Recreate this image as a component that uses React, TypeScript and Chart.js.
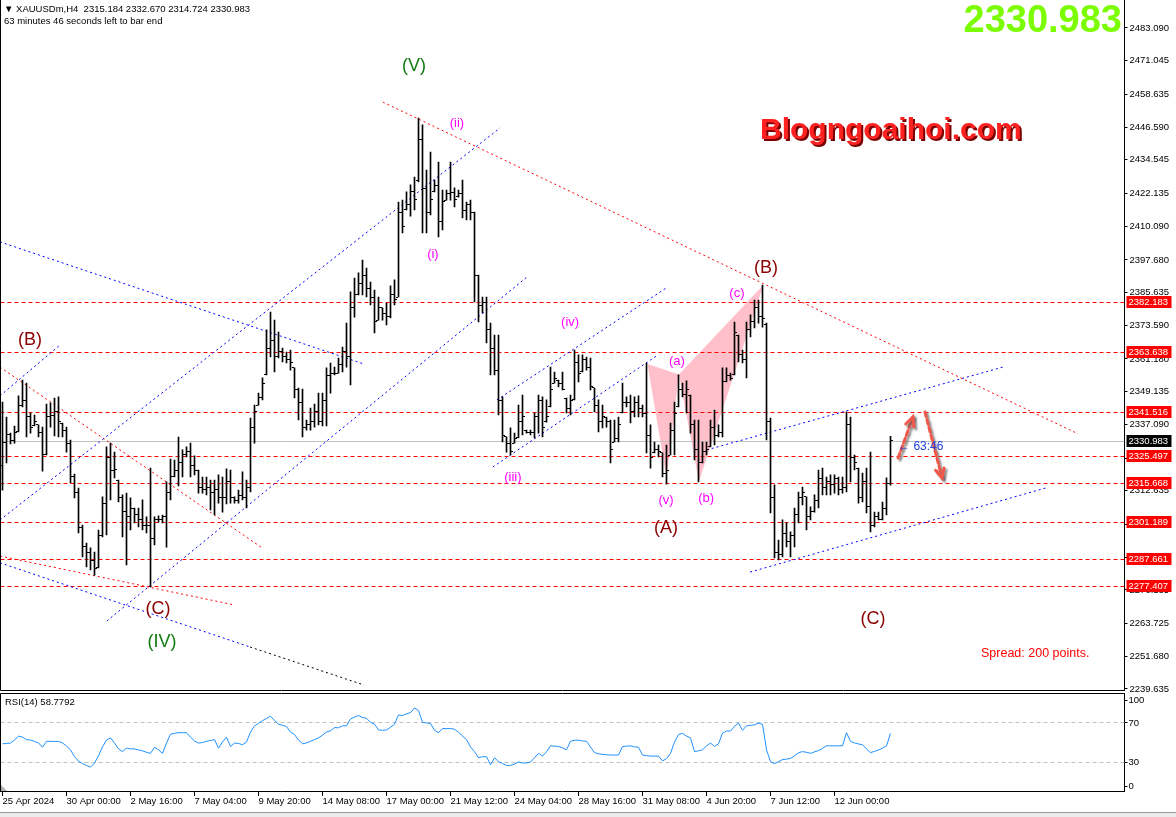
import { useEffect, useRef } from 'react';
import { Chart, registerables } from 'chart.js';

Chart.register(...registerables);

const FONT = "'Liberation Sans', 'DejaVu Sans', Arial, sans-serif";

const symbolName = 'XAUUSDm,H4';
const countdownText = '63 minutes 46 seconds left to bar end';
const barTimer = '\u2190 63:46';
const spreadText = 'Spread: 200 points.';
const siteName = 'Blogngoaihoi.com';

const opens = [
  2322.0,2330.5,2333.2,2331.0,2334.3,2344.0,2346.0,2340.0,2336.5,2336.9,
  2334.0,2326.0,2340.0,2340.5,2342.0,2337.6,2335.0,2330.0,2318.0,2312.0,
  2299.0,2292.0,2290.0,2287.0,2284.2,2296.0,2308.0,2325.0,2320.0,2316.6,
  2310.0,2305.0,2303.0,2306.0,2304.0,2302.0,2300.0,2300.0,2295.0,2302.0,
  2302.0,2303.0,2312.0,2318.0,2320.0,2323.0,2326.0,2327.0,2322.0,2320.0,
  2314.0,2313.0,2314.0,2312.0,2313.0,2310.0,2310.0,2316.0,2310.0,2309.0,
  2311.0,2310.0,2314.0,2336.0,2344.2,2347.0,2355.3,2365.0,2368.0,2362.0,
  2364.0,2362.0,2361.0,2357.9,2350.0,2345.0,2336.0,2337.0,2338.0,2342.0,
  2338.0,2346.0,2355.0,2356.0,2356.0,2359.0,2364.0,2362.0,2380.0,2385.0,
  2389.0,2392.0,2387.0,2384.0,2375.5,2380.0,2378.0,2377.0,2385.0,2384.0,
  2415.0,2416.1,2418.0,2423.0,2427.0,2442.0,2424.0,2415.0,2422.7,2425.0,
  2412.0,2419.7,2422.0,2422.5,2421.0,2422.0,2416.0,2418.0,2415.0,2392.0,
  2381.0,2382.0,2372.0,2365.0,2357.0,2346.0,2332.5,2330.0,2330.2,2332.1,
  2338.0,2335.0,2334.0,2334.0,2340.0,2346.0,2338.0,2343.5,2352.3,2353.4,
  2352.0,2346.8,2343.0,2346.1,2360.0,2356.4,2361.0,2358.0,2350.5,2344.0,
  2338.0,2339.8,2338.0,2330.6,2332.0,2341.3,2345.0,2345.0,2342.0,2345.0,
  2343.0,2341.0,2333.0,2326.6,2328.0,2326.6,2319.0,2325.8,2335.0,2343.5,
  2350.0,2348.0,2347.9,2337.0,2328.0,2323.0,2327.0,2328.8,2336.0,2333.0,
  2334.0,2353.0,2355.0,2355.3,2370.0,2363.0,2361.0,2372.0,2375.0,2380.0,
  2377.0,2374.0,2338.0,2310.0,2290.0,2289.0,2297.0,2294.0,2296.0,2304.0,
  2310.0,2310.4,2303.0,2305.0,2309.0,2317.0,2314.0,2316.0,2315.0,2317.0,
  2313.0,2314.0,2337.0,2325.0,2321.0,2310.0,2316.0,2307.0,2300.0,2303.0,
  2302.0,2306.0,2315.184,
];

const highs = [
  2345.3,2339.8,2333.9,2336.5,2347.6,2353.4,2352.3,2341.3,2340.5,2336.9,
  2336.1,2344.6,2345.0,2346.8,2347.2,2337.6,2336.1,2331.3,2318.8,2313.6,
  2300.0,2293.4,2291.6,2290.1,2298.2,2310.4,2328.8,2330.2,2326.9,2316.6,
  2311.1,2311.8,2310.0,2306.3,2306.3,2309.3,2303.0,2321.0,2303.0,2303.4,
  2303.7,2315.9,2324.3,2323.9,2332.4,2327.7,2328.8,2330.2,2325.5,2320.3,
  2317.7,2317.7,2316.6,2316.6,2318.5,2317.7,2320.7,2320.3,2310.4,2312.9,
  2319.6,2316.6,2339.4,2344.2,2348.6,2354.2,2371.9,2378.5,2375.5,2371.1,
  2365.2,2363.7,2364.5,2357.9,2350.5,2350.1,2338.7,2343.1,2344.6,2348.6,
  2348.6,2357.9,2359.7,2358.2,2361.5,2365.6,2374.4,2385.9,2391.0,2392.9,
  2397.6,2394.7,2389.5,2386.6,2384.0,2380.0,2381.8,2388.1,2390.3,2419.0,
  2419.7,2422.7,2425.3,2428.2,2449.9,2447.4,2430.8,2437.4,2427.1,2433.7,
  2423.4,2423.4,2433.7,2424.2,2423.4,2427.1,2419.0,2419.7,2415.3,2392.1,
  2384.0,2384.0,2374.4,2370.0,2370.0,2347.2,2332.5,2335.8,2333.9,2344.2,
  2347.9,2335.0,2335.0,2341.3,2347.9,2347.2,2346.1,2358.2,2356.4,2353.4,
  2356.4,2346.8,2347.9,2364.5,2362.7,2362.7,2361.9,2361.5,2350.5,2346.1,
  2344.2,2339.8,2338.7,2338.7,2339.8,2352.3,2347.2,2347.9,2347.2,2347.6,
  2344.2,2359.7,2336.9,2330.6,2329.5,2326.6,2329.5,2337.6,2345.3,2355.3,
  2352.3,2353.1,2347.9,2338.7,2338.7,2330.6,2330.6,2338.7,2342.4,2336.9,
  2357.9,2357.9,2356.0,2374.8,2370.0,2364.5,2374.8,2377.4,2382.9,2382.9,
  2388.4,2374.4,2339.4,2314.8,2294.5,2301.9,2300.8,2297.5,2306.3,2312.2,
  2314.0,2310.4,2306.7,2311.1,2320.3,2321.0,2317.7,2318.5,2318.5,2317.7,
  2317.7,2341.7,2339.8,2325.8,2321.0,2319.2,2321.0,2326.9,2304.8,2304.8,
  2308.5,2317.4,2332.67,
];

const lows = [
  2312.9,2322.9,2329.9,2330.2,2334.3,2343.5,2332.5,2333.9,2336.5,2332.5,
  2319.9,2325.8,2336.1,2332.8,2332.5,2332.5,2326.9,2315.5,2310.0,2297.1,
  2288.3,2284.6,2283.5,2281.6,2284.2,2295.6,2296.4,2309.3,2317.4,2308.5,
  2295.6,2285.3,2298.2,2300.8,2299.3,2298.2,2297.1,2277.2,2292.7,2301.1,
  2300.8,2291.9,2309.3,2317.7,2314.4,2317.7,2325.1,2317.7,2318.5,2311.8,
  2311.8,2311.1,2305.6,2303.7,2308.1,2304.8,2307.8,2308.1,2308.1,2308.1,
  2309.3,2306.3,2312.2,2330.2,2344.2,2346.1,2355.3,2361.9,2356.4,2361.6,
  2360.1,2359.7,2357.1,2346.8,2338.7,2332.5,2335.0,2335.0,2336.1,2336.9,
  2336.5,2336.5,2348.6,2355.3,2356.0,2356.4,2358.2,2351.6,2376.6,2384.8,
  2384.8,2384.0,2381.1,2370.8,2375.5,2375.5,2373.7,2376.3,2381.1,2384.0,
  2407.6,2416.1,2413.8,2416.1,2426.4,2407.6,2407.6,2414.2,2422.7,2406.1,
  2408.7,2419.7,2419.7,2417.2,2420.8,2413.1,2412.4,2412.4,2382.2,2374.8,
  2378.1,2367.1,2355.3,2355.3,2340.6,2330.6,2326.9,2325.8,2330.2,2332.1,
  2333.2,2333.9,2333.2,2332.1,2333.9,2332.5,2337.9,2343.5,2352.3,2350.9,
  2349.8,2341.3,2340.6,2346.1,2352.7,2356.4,2357.1,2349.8,2341.7,2334.3,
  2335.8,2336.1,2322.9,2330.6,2330.6,2341.3,2343.5,2337.6,2339.8,2339.8,
  2339.8,2326.6,2321.0,2326.6,2325.1,2317.7,2315.1,2325.8,2325.8,2343.5,
  2347.2,2341.3,2333.9,2324.0,2315.9,2322.9,2325.8,2328.8,2329.5,2332.5,
  2332.5,2352.7,2353.4,2355.3,2360.1,2359.7,2354.2,2369.3,2372.6,2374.4,
  2372.9,2331.4,2304.5,2287.9,2287.2,2288.3,2292.0,2288.3,2292.0,2300.8,
  2307.4,2298.2,2301.9,2304.8,2306.3,2311.1,2311.1,2311.1,2311.8,2311.1,
  2311.8,2312.2,2315.9,2320.3,2308.1,2308.5,2304.5,2297.5,2299.3,2301.9,
  2301.9,2303.7,2314.724,
];

const closes = [
  2330.5,2333.2,2331.0,2334.0,2344.0,2346.0,2340.0,2336.0,2338.0,2334.0,
  2326.0,2340.0,2340.5,2342.0,2338.0,2335.0,2330.0,2318.0,2312.0,2299.0,
  2292.0,2290.0,2287.0,2284.0,2296.0,2308.0,2325.0,2320.0,2320.5,2310.0,
  2305.0,2303.0,2306.0,2304.0,2302.0,2300.0,2300.0,2295.0,2302.0,2302.0,
  2303.0,2312.0,2318.0,2320.0,2323.0,2326.0,2327.0,2322.0,2320.0,2314.0,
  2313.0,2314.0,2312.0,2313.0,2310.0,2310.0,2316.0,2310.0,2309.0,2311.0,
  2310.0,2314.0,2336.0,2342.0,2347.0,2352.0,2365.0,2368.0,2362.0,2364.0,
  2362.0,2361.0,2360.0,2350.0,2345.0,2336.0,2337.0,2338.0,2342.0,2338.0,
  2346.0,2355.0,2356.0,2356.0,2359.0,2364.0,2362.0,2380.0,2385.0,2389.0,
  2392.0,2387.0,2384.0,2375.0,2380.0,2378.0,2377.0,2385.0,2383.0,2415.0,
  2410.0,2418.0,2423.0,2420.0,2442.0,2424.0,2415.0,2420.0,2425.0,2412.0,
  2419.0,2422.0,2422.5,2420.0,2422.0,2416.0,2418.0,2415.0,2392.0,2381.0,
  2382.0,2372.0,2365.0,2357.0,2346.0,2333.0,2330.0,2327.0,2332.0,2338.0,
  2340.0,2334.0,2334.0,2340.0,2346.0,2336.0,2340.0,2350.0,2354.0,2352.0,
  2350.0,2343.0,2346.0,2360.0,2356.0,2361.0,2358.0,2351.0,2344.0,2338.0,
  2340.0,2338.0,2328.0,2332.0,2337.0,2345.0,2345.0,2342.0,2345.0,2343.0,
  2341.0,2333.0,2325.0,2328.0,2327.0,2319.0,2320.0,2335.0,2341.0,2350.0,
  2348.0,2350.0,2337.0,2328.0,2323.0,2327.0,2328.0,2336.0,2333.0,2334.0,
  2353.0,2355.0,2354.0,2371.0,2363.0,2361.0,2372.0,2375.0,2380.0,2377.0,
  2376.0,2338.0,2310.0,2290.0,2289.0,2297.0,2294.0,2296.0,2304.0,2310.0,
  2312.0,2303.0,2305.0,2309.0,2317.0,2314.0,2316.0,2315.0,2317.0,2313.0,
  2314.0,2337.0,2325.0,2323.0,2310.0,2316.0,2307.0,2300.0,2303.0,2302.0,
  2306.0,2315.184,2330.983,
];

const rsiValues = [
  48.2,48.5,48.9,52.0,55.9,55.0,52.5,52.0,50.7,49.0,
  44.7,50.7,50.7,50.5,50.7,49.0,46.0,42.0,35.0,30.5,
  28.0,26.1,24.4,28.5,36.0,45.0,52.0,54.2,48.9,43.0,
  40.2,43.7,43.0,43.0,41.9,41.0,39.5,38.4,44.7,42.0,
  38.4,48.9,58.0,58.8,59.5,59.5,59.5,55.0,51.0,48.9,
  49.5,50.7,51.5,52.5,43.7,50.0,54.9,45.4,48.9,48.5,
  47.2,50.0,60.0,66.5,69.0,71.8,74.0,76.3,72.0,68.2,
  67.0,65.8,60.0,57.7,52.0,48.2,49.0,50.7,52.5,54.2,
  57.0,60.2,61.5,64.7,64.5,66.5,66.5,73.5,75.5,77.0,
  75.0,74.2,70.0,68.2,62.3,62.0,62.3,65.0,68.2,77.7,
  77.0,78.8,80.0,84.7,82.3,70.0,69.5,68.9,62.0,59.5,
  63.7,63.7,63.7,63.0,60.0,56.0,52.5,45.0,40.2,33.9,
  35.0,35.0,26.8,33.9,30.0,28.0,26.1,26.1,27.5,29.6,
  28.6,28.6,29.6,34.0,38.4,35.6,40.0,46.1,45.8,45.4,
  44.0,42.0,50.7,51.8,51.8,51.0,50.7,45.0,39.1,38.0,
  37.4,37.0,36.7,36.7,36.7,45.4,45.8,46.1,45.0,44.7,
  36.7,36.0,35.6,35.6,35.6,30.7,33.0,38.4,50.0,57.7,
  58.8,56.0,54.2,40.2,41.0,42.0,46.0,49.0,45.4,48.2,
  59.0,61.2,61.2,66.0,69.3,62.0,66.5,67.0,67.5,69.3,
  68.0,42.0,30.0,27.9,30.0,32.1,32.5,33.2,36.0,39.1,
  40.2,39.5,38.4,40.0,41.2,43.5,46.1,46.1,46.1,46.1,
  46.1,59.5,50.7,49.0,48.0,47.2,43.0,39.1,40.5,41.9,
  43.7,46.1,58.7792,
];

const timeTickBars = [0, 16, 32, 48, 64, 80, 96, 112, 128, 144, 160, 176, 192, 208];
const timeTickLabels = [
  '25 Apr 2024', '30 Apr 00:00', '2 May 16:00', '7 May 04:00', '9 May 20:00',
  '14 May 08:00', '17 May 00:00', '21 May 12:00', '24 May 04:00', '28 May 16:00',
  '31 May 08:00', '4 Jun 20:00', '7 Jun 12:00', '12 Jun 00:00',
];

const priceTicks = [
  2483.090, 2471.045, 2458.635, 2446.590, 2434.545, 2422.135, 2410.090, 2397.680,
  2385.635, 2373.590, 2361.180, 2349.135, 2337.090, 2324.680, 2312.635, 2300.225,
  2288.180, 2276.135, 2263.725, 2251.680, 2239.635,
];
const priceMin = 2239.26;
const priceMax = 2493.4;

const levelPrices = [2382.183, 2363.638, 2341.516, 2325.497, 2315.668, 2301.189, 2287.661, 2277.407];

const rsiLevels = [70, 30];
const rsiAxisLabels = [100, 70, 30, 0];

const SLOT_COUNT = 281;
const slotLabels = Array.from({ length: SLOT_COUNT }, (_, i) => String(i));

// trend lines: [barIndex1, price1, barIndex2, price2]
const redTrendLines = [
  [95.1, 2455.8, 268.9, 2333.6],
  [-0.625, 2358.2, 64.9, 2291.6],
  [-0.625, 2288.6, 57.9, 2270.6],
];
const blueTrendLines = [
  [-0.625, 2404.3, 90.4, 2359.3],
  [-0.625, 2347.6, 14.1, 2366.0],
  [-0.625, 2301.9, 124.4, 2446.3],
  [26.1, 2264.7, 131.4, 2391.7],
  [-0.625, 2286.1, 61.9, 2255.1],
  [123.6, 2346.1, 165.9, 2387.3],
  [122.6, 2321.4, 163.9, 2362.7],
  [176.1, 2327.7, 250.1, 2358.2],
  [186.9, 2282.7, 260.9, 2313.7],
];
const blackTrendLines = [[61.9, 2255.1, 90.4, 2241.1]];

const harmonicPoints = [
  [161.25, 2359.3],
  [166.0, 2317.4],
  [169.1, 2355.5],
  [174.1, 2316.0],
  [190.2, 2388.4],
];
const harmonicTriangles = [[0, 1, 2], [2, 3, 4]];

const majorWaveLabels = [
  ['(B)', 6.9, 2368.2],
  ['(B)', 190.9, 2394.7],
  ['(C)', 38.9, 2269.1],
  ['(C)', 217.6, 2265.4],
  ['(A)', 165.9, 2298.9],
];
const primaryWaveLabels = [
  ['(V)', 102.9, 2469.1],
  ['(IV)', 39.9, 2257.0],
];
const minorWaveLabels = [
  ['(ii)', 113.6, 2448.1],
  ['(i)', 107.6, 2399.8],
  ['(iv)', 141.9, 2374.8],
  ['(iii)', 127.6, 2317.4],
  ['(v)', 165.9, 2309.2],
  ['(a)', 168.6, 2360.1],
  ['(b)', 175.9, 2310.0],
  ['(c)', 183.6, 2385.5],
];

const forecastArrows = [
  [223.9, 2324.7, 227.6, 2339.8],
  [230.6, 2341.7, 234.9, 2317.4],
];
const timerAnchor = [223.9, 2328.8];

function drawSegments(ctx: CanvasRenderingContext2D, xs: any, ys: any, lines: number[][], color: string, dash: number[]) {
  ctx.save();
  ctx.strokeStyle = color;
  ctx.lineWidth = 1;
  ctx.setLineDash(dash);
  lines.forEach(([i1, p1, i2, p2]) => {
    ctx.beginPath();
    ctx.moveTo(xs.getPixelForValue(i1), ys.getPixelForValue(p1));
    ctx.lineTo(xs.getPixelForValue(i2), ys.getPixelForValue(p2));
    ctx.stroke();
  });
  ctx.restore();
}

function drawArrow(ctx: CanvasRenderingContext2D, x1: number, y1: number, x2: number, y2: number) {
  const ang = Math.atan2(y2 - y1, x2 - x1);
  const head = 10;
  ctx.beginPath();
  ctx.moveTo(x1, y1);
  ctx.lineTo(x2, y2);
  ctx.stroke();
  ctx.setLineDash([]);
  ctx.beginPath();
  ctx.moveTo(x2 - head * Math.cos(ang - 0.45), y2 - head * Math.sin(ang - 0.45));
  ctx.lineTo(x2, y2);
  ctx.lineTo(x2 - head * Math.cos(ang + 0.45), y2 - head * Math.sin(ang + 0.45));
  ctx.stroke();
}

const mainPlugin = {
  id: 'mt4Main',
  beforeDatasetsDraw(chart: any) {
    const { ctx, chartArea: a, scales } = chart;
    const xs = scales.x;
    const ys = scales.y;
    ctx.save();
    ctx.beginPath();
    ctx.rect(a.left, a.top, a.right - a.left, a.bottom - a.top);
    ctx.clip();
    ctx.fillStyle = '#FFC0CB';
    harmonicTriangles.forEach((tri) => {
      ctx.beginPath();
      tri.forEach((k, n) => {
        const [bi, p] = harmonicPoints[k];
        const X = xs.getPixelForValue(bi);
        const Y = ys.getPixelForValue(p);
        if (n === 0) ctx.moveTo(X, Y);
        else ctx.lineTo(X, Y);
      });
      ctx.closePath();
      ctx.fill();
    });
    const last = closes[closes.length - 1];
    const yc = Math.round(ys.getPixelForValue(last)) + 0.5;
    ctx.strokeStyle = '#C0C0C0';
    ctx.lineWidth = 1;
    ctx.beginPath();
    ctx.moveTo(a.left, yc);
    ctx.lineTo(a.right, yc);
    ctx.stroke();
    ctx.strokeStyle = '#FF0000';
    ctx.setLineDash([4, 3]);
    levelPrices.forEach((p) => {
      const yy = Math.round(ys.getPixelForValue(p)) + 0.5;
      ctx.beginPath();
      ctx.moveTo(a.left, yy);
      ctx.lineTo(a.right, yy);
      ctx.stroke();
    });
    ctx.setLineDash([]);
    drawSegments(ctx, xs, ys, redTrendLines, '#FF0000', [2, 3]);
    drawSegments(ctx, xs, ys, blueTrendLines, '#0000FF', [2, 3]);
    drawSegments(ctx, xs, ys, blackTrendLines, '#000000', [2, 3]);
    ctx.restore();
  },
  afterDatasetsDraw(chart: any) {
    const { ctx, scales } = chart;
    const xs = scales.x;
    const ys = scales.y;
    ctx.save();
    ctx.fillStyle = '#000';
    for (let i = 0; i < closes.length; i++) {
      const cx = Math.round(xs.getPixelForValue(i) - 0.5);
      const yo = Math.round(ys.getPixelForValue(opens[i]) - 0.5);
      const yc = Math.round(ys.getPixelForValue(closes[i]) - 0.5);
      ctx.fillRect(cx - 2, yo, 2, 1);
      ctx.fillRect(cx + 1, yc, 2, 1);
    }
    ctx.restore();
  },
  afterDraw(chart: any) {
    const { ctx, chartArea: a, scales } = chart;
    const xs = scales.x;
    const ys = scales.y;
    ctx.save();
    ctx.textBaseline = 'middle';
    ctx.textAlign = 'center';

    const drawLabels = (list: any[], color: string, size: number) => {
      ctx.fillStyle = color;
      ctx.font = `${size}px ${FONT}`;
      list.forEach(([t, bi, p]) => ctx.fillText(t, xs.getPixelForValue(bi), ys.getPixelForValue(p)));
    };
    drawLabels(majorWaveLabels, '#8B0000', 18);
    drawLabels(primaryWaveLabels, '#117A11', 18);
    drawLabels(minorWaveLabels, '#FF00FF', 13);

    // forecast arrows
    ctx.save();
    ctx.lineWidth = 3;
    ctx.lineCap = 'round';
    ctx.strokeStyle = '#F2584A';
    ctx.shadowColor = 'rgba(90,90,90,0.7)';
    ctx.shadowBlur = 2;
    ctx.shadowOffsetX = 2;
    ctx.shadowOffsetY = 2;
    forecastArrows.forEach(([i1, p1, i2, p2]) => {
      ctx.setLineDash([5, 3]);
      drawArrow(ctx, xs.getPixelForValue(i1), ys.getPixelForValue(p1), xs.getPixelForValue(i2), ys.getPixelForValue(p2));
    });
    ctx.restore();

    // bar timer
    ctx.textAlign = 'left';
    ctx.fillStyle = '#1F3FE0';
    ctx.font = `12px ${FONT}`;
    ctx.fillText(barTimer, xs.getPixelForValue(timerAnchor[0]), ys.getPixelForValue(timerAnchor[1]));

    // header
    const n = closes.length - 1;
    ctx.fillStyle = '#000';
    ctx.font = `9.5px ${FONT}`;
    ctx.fillText(
      `\u25BC ${symbolName}  ${opens[n].toFixed(3)} ${highs[n].toFixed(3)} ${lows[n].toFixed(3)} ${closes[n].toFixed(3)}`,
      4, 9
    );
    ctx.fillText(countdownText, 4, 21);

    // spread
    ctx.fillStyle = '#FF0000';
    ctx.font = `12.5px ${FONT}`;
    ctx.fillText(spreadText, 981, 654);

    // site name
    ctx.font = `bold 30px ${FONT}`;
    ctx.fillStyle = '#7A0000';
    ctx.fillText(siteName, 762, 133);
    ctx.fillStyle = '#FF2020';
    ctx.fillText(siteName, 760, 131);

    // big price
    ctx.textAlign = 'right';
    ctx.font = `bold 38px ${FONT}`;
    ctx.fillStyle = '#7CFC00';
    ctx.fillText(closes[n].toFixed(3), 1122, 22);

    // borders
    ctx.strokeStyle = '#000';
    ctx.lineWidth = 1;
    ctx.beginPath();
    ctx.moveTo(0.5, 0);
    ctx.lineTo(0.5, a.bottom + 0.5);
    ctx.lineTo(a.right, a.bottom + 0.5);
    ctx.stroke();

    // price labels on axis
    ctx.textAlign = 'left';
    ctx.font = `9.5px ${FONT}`;
    const tag = (p: number, bg: string) => {
      const yy = Math.round(ys.getPixelForValue(p));
      ctx.fillStyle = bg;
      ctx.fillRect(a.right + 2, yy - 6, 45, 12);
      ctx.fillStyle = '#FFFFFF';
      ctx.fillText(p.toFixed(3), a.right + 4, yy + 0.5);
    };
    levelPrices.forEach((p) => tag(p, '#FF0000'));
    tag(closes[n], '#000000');
    ctx.restore();
  },
};

const rsiPlugin = {
  id: 'mt4Rsi',
  beforeDatasetsDraw(chart: any) {
    const { ctx, chartArea: a, scales } = chart;
    const ys = scales.y;
    ctx.save();
    ctx.strokeStyle = '#C0C0C0';
    ctx.lineWidth = 1;
    ctx.setLineDash([4, 3]);
    rsiLevels.forEach((v) => {
      const yy = Math.round(ys.getPixelForValue(v)) + 0.5;
      ctx.beginPath();
      ctx.moveTo(a.left, yy);
      ctx.lineTo(a.right, yy);
      ctx.stroke();
    });
    ctx.restore();
  },
  afterDraw(chart: any) {
    const { ctx, chartArea: a, scales } = chart;
    const ys = scales.y;
    ctx.save();
    ctx.strokeStyle = '#000';
    ctx.lineWidth = 1;
    ctx.beginPath();
    ctx.moveTo(0.5, a.bottom);
    ctx.lineTo(0.5, a.top + 0.5);
    ctx.lineTo(a.right, a.top + 0.5);
    ctx.stroke();
    ctx.fillStyle = '#000';
    ctx.font = `9.5px ${FONT}`;
    ctx.textBaseline = 'middle';
    ctx.textAlign = 'left';
    ctx.fillText(`RSI(14) ${rsiValues[rsiValues.length - 1].toFixed(4)}`, 5, a.top + 9);
    rsiAxisLabels.forEach((v) => {
      let yy = ys.getPixelForValue(v);
      if (v === 100) yy += 7;
      if (v === 0) yy -= 5;
      ctx.fillRect(a.right, Math.round(yy), 3, 1);
      ctx.fillText(String(v), a.right + 4, yy + 0.5);
    });
    ctx.fillStyle = '#B0B0B0';
    ctx.beginPath();
    ctx.moveTo(1, a.bottom - 6);
    ctx.lineTo(7, a.bottom);
    ctx.lineTo(1, a.bottom);
    ctx.closePath();
    ctx.fill();
    ctx.restore();
  },
};

export default function App() {
  const mainRef = useRef<HTMLCanvasElement>(null);
  const rsiRef = useRef<HTMLCanvasElement>(null);

  useEffect(() => {
    const mainChart = new Chart(mainRef.current as HTMLCanvasElement, {
      type: 'bar',
      data: {
        labels: slotLabels,
        datasets: [
          {
            data: highs.map((h, i) => [lows[i], h]),
            backgroundColor: '#000000',
            borderWidth: 0,
            barThickness: 1,
          },
        ],
      },
      options: {
        animation: false,
        responsive: false,
        devicePixelRatio: 1,
        events: [],
        layout: { padding: { left: 0.5, right: 0, top: 0, bottom: 10 } },
        plugins: { legend: { display: false }, tooltip: { enabled: false } },
        scales: {
          x: { type: 'category', display: false, offset: true, grid: { display: false } },
          y: {
            position: 'right',
            min: priceMin,
            max: priceMax,
            afterBuildTicks: (s: any) => {
              s.ticks = priceTicks.map((v) => ({ value: v }));
            },
            afterFit: (s: any) => {
              s.width = 51.5;
              s.paddingTop = 0;
              s.paddingBottom = 0;
            },
            ticks: {
              autoSkip: false,
              font: { family: FONT, size: 9.5 },
              color: '#000',
              padding: 2,
              callback: (v: any) => Number(v).toFixed(3),
            },
            grid: { drawOnChartArea: false, drawTicks: true, tickLength: 3, color: '#000' },
            border: { display: true, color: '#000' },
          },
        },
      } as any,
      plugins: [mainPlugin],
    } as any);

    const rsiChart = new Chart(rsiRef.current as HTMLCanvasElement, {
      type: 'line',
      data: {
        labels: slotLabels,
        datasets: [
          {
            data: rsiValues,
            borderColor: '#1E90FF',
            borderWidth: 1,
            pointRadius: 0,
            tension: 0,
            fill: false,
          },
        ],
      },
      options: {
        animation: false,
        responsive: false,
        devicePixelRatio: 1,
        events: [],
        layout: { padding: { left: 0.5, right: 0, top: 0, bottom: 0 } },
        plugins: { legend: { display: false }, tooltip: { enabled: false } },
        scales: {
          x: {
            type: 'category',
            offset: true,
            afterBuildTicks: (s: any) => {
              s.ticks = timeTickBars.map((v) => ({ value: v }));
            },
            afterFit: (s: any) => {
              s.height = 26;
              s.paddingLeft = 0;
              s.paddingRight = 0;
            },
            ticks: {
              autoSkip: false,
              maxRotation: 0,
              minRotation: 0,
              align: 'start',
              padding: 0,
              font: { family: FONT, size: 9.5 },
              color: '#000',
              callback: (v: any) => timeTickLabels[timeTickBars.indexOf(Number(v))] ?? '',
            },
            grid: { offset: false, drawOnChartArea: false, drawTicks: true, tickLength: 5, color: '#000' },
            border: { display: true, color: '#000' },
          },
          y: {
            position: 'right',
            min: 0,
            max: 100,
            ticks: { display: false },
            grid: { display: false },
            border: { display: true, color: '#000' },
            afterFit: (s: any) => {
              s.width = 51.5;
              s.paddingTop = 0;
              s.paddingBottom = 0;
            },
          },
        },
      } as any,
      plugins: [rsiPlugin],
    } as any);

    return () => {
      mainChart.destroy();
      rsiChart.destroy();
    };
  }, []);

  return (
    <div
      style={{
        position: 'fixed',
        left: 0,
        top: 0,
        width: 1176,
        height: 817,
        background: '#ffffff',
        overflow: 'hidden',
      }}
    >
      <canvas
        ref={rsiRef}
        width={1176}
        height={124}
        style={{ position: 'absolute', left: 0, top: 693, width: 1176, height: 124 }}
      />
      <canvas
        ref={mainRef}
        width={1176}
        height={700}
        style={{ position: 'absolute', left: 0, top: 0, width: 1176, height: 700, zIndex: 2 }}
      />
      <div
        style={{
          position: 'absolute',
          left: 0,
          top: 812,
          width: 1176,
          height: 5,
          background: '#ececec',
          borderTop: '1px solid #9a9a9a',
          zIndex: 3,
        }}
      />
    </div>
  );
}
